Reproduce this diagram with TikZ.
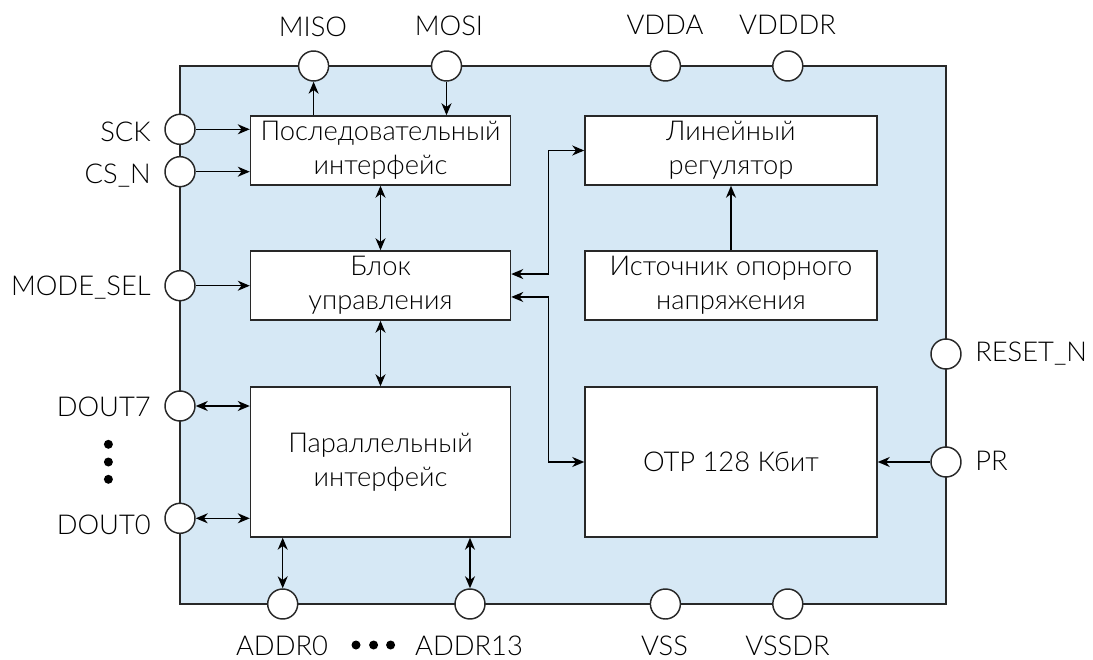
\documentclass[tikz,border=0pt]{standalone}
\usepackage{fontspec}
\setmainfont{Lato Light}
\usetikzlibrary{arrows.meta}
\definecolor{chipblue}{RGB}{214,232,245}
\definecolor{edge}{RGB}{40,40,40}
\begin{document}
\begin{tikzpicture}[x=0.75pt,y=-0.75pt,
  txt/.style={font=\fontsize{20.5}{25.5}\selectfont, inner sep=0pt},
  blk/.style={draw=edge, fill=white, line width=1.1pt, align=center, font=\fontsize{20.5}{25.5}\selectfont, inner sep=0pt},
  pin/.style={circle, draw=edge, fill=white, line width=1.1pt, minimum size=22.5pt, inner sep=0pt},
  conn/.style={line width=1.1pt, draw=black},
  arr/.style={conn, -{Stealth[length=9pt,width=7.5pt,inset=2.8pt]}},
  barr/.style={conn, {Stealth[length=9pt,width=7.5pt,inset=2.8pt]}-{Stealth[length=9pt,width=7.5pt,inset=2.8pt]}},
  dotm/.style={circle, fill=black, inner sep=0pt, minimum size=6.75pt}]
\useasboundingbox (0,0) rectangle (1093,660);
% chip outline
\node[draw=edge, fill=chipblue, line width=1.1pt, minimum width=574.5pt, minimum height=403.5pt, inner sep=0pt] (chip) at (563,335) {};
% blocks
\node[blk, minimum width=195pt, minimum height=51.75pt] (ser) at (380.5,150.5) {Последовательный\\интерфейс};
\node[blk, minimum width=195pt, minimum height=51.75pt] (ctl) at (380.5,285.5) {Блок\\управления};
\node[blk, minimum width=195pt, minimum height=112.5pt] (par) at (380.5,462) {Параллельный\\интерфейс};
\node[blk, minimum width=219pt, minimum height=51.75pt] (reg) at (731,150.5) {Линейный\\регулятор};
\node[blk, minimum width=219pt, minimum height=51.75pt] (ref) at (731,285.5) {Источник опорного\\напряжения};
\node[blk, minimum width=219pt, minimum height=112.5pt] (otp) at (731,462) {OTP 128 Кбит};
% pins
\node[pin] (miso) at (313.6,66) {};
\node[pin] (mosi) at (446.5,66) {};
\node[pin] (vdda) at (665.4,66) {};
\node[pin] (vdddr) at (787.8,66) {};
\node[pin] (sck) at (180,129.3) {};
\node[pin] (csn) at (180,171.7) {};
\node[pin] (mode) at (180,285.7) {};
\node[pin] (dout7) at (180,406) {};
\node[pin] (dout0) at (180,518.3) {};
\node[pin] (addr0) at (282.7,604) {};
\node[pin] (addr13) at (470,604) {};
\node[pin] (vss) at (665.4,604) {};
\node[pin] (vssdr) at (787.8,604) {};
\node[pin] (resetn) at (946,354) {};
\node[pin] (pr) at (946,462) {};
% labels
\node[txt, anchor=base] (lmiso) at (313,37) {MISO};
\node[txt, anchor=base] (lmosi) at (449,35.5) {MOSI};
\node[txt, anchor=base] (lvdda) at (665,35) {VDDA};
\node[txt, anchor=base] (lvdddr) at (787.6,35) {VDDDR};
\node[txt, anchor=base east] (lsck) at (151,141.5) {SCK};
\node[txt, anchor=base east] (lcsn) at (151,183) {CS\_N};
\node[txt, anchor=base east] (lmode) at (151,295) {MODE\_SEL};
\node[txt, anchor=base east] (ldout7) at (151,416) {DOUT7};
\node[txt, anchor=base east] (ldout0) at (151,534) {DOUT0};
\node[txt, anchor=base west] (lresetn) at (975,361.7) {RESET\_N};
\node[txt, anchor=base west] (lpr) at (975,470) {PR};
\node[txt, anchor=base] (laddr0) at (282,655) {ADDR0};
\node[txt, anchor=base] (laddr13) at (469,655) {ADDR13};
\node[txt, anchor=base] (lvss) at (664.5,655) {VSS};
\node[txt, anchor=base] (lvssdr) at (787.5,655) {VSSDR};
% dots
\node[dotm] (vd1) at (108.4,444.3) {};
\node[dotm] (vd2) at (108.4,462) {};
\node[dotm] (vd3) at (108.4,479.3) {};
\node[dotm] (hd1) at (356,645) {};
\node[dotm] (hd2) at (373.6,645) {};
\node[dotm] (hd3) at (390.6,645) {};
% connectors
\draw[arr] (ser.north -| miso) -- (miso.south);
\draw[arr] (mosi.south) -- (mosi.south |- ser.north);
\draw[arr] (sck.east) -- (sck.east -| ser.west);
\draw[arr] (csn.east) -- (csn.east -| ser.west);
\draw[barr] (ser.south) -- (ctl.north);
\draw[arr] (mode.east) -- (mode.east -| ctl.west);
\draw[barr] (ctl.south) -- (par.north);
\draw[barr] (dout7.east) -- (dout7.east -| par.west);
\draw[barr] (dout0.east) -- (dout0.east -| par.west);
\draw[barr] (addr0.north) -- (addr0.north |- par.south);
\draw[barr] (addr13.north) -- (addr13.north |- par.south);
\draw[arr] (ref.north) -- (reg.south);
\draw[barr] ([yshift=8.6pt]ctl.east) -- ++(37.2,0) |- (reg.west);
\draw[barr] ([yshift=-8.6pt]ctl.east) -- ++(37.2,0) |- (otp.west);
\draw[arr] (pr.west) -- (pr.west -| otp.east);
\end{tikzpicture}
\end{document}
